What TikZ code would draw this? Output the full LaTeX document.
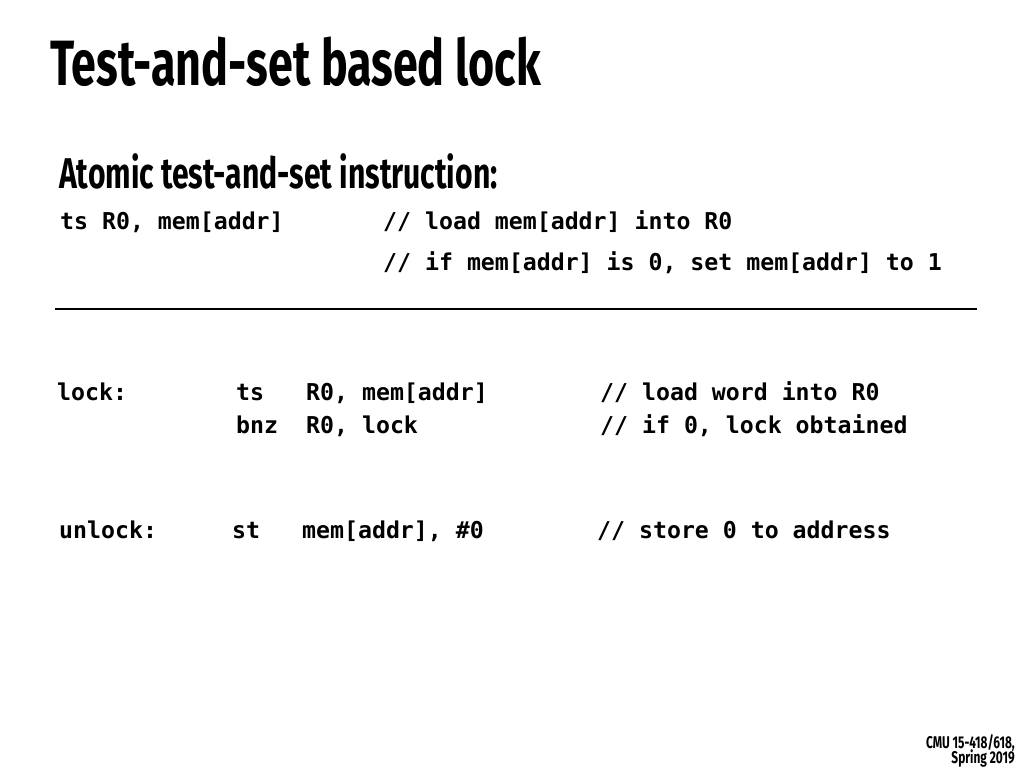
\documentclass[tikz,border=0pt]{standalone}
\usepackage{fontspec}
\setmainfont{Fira Sans}
\setmonofont{DejaVu Sans Mono}
\newfontfamily\condfont{Fira Sans}[FakeStretch=0.70]
\usetikzlibrary{positioning}

\begin{document}
\begin{tikzpicture}[% styles for the whole slide, positions are in pixels
			x=1pt,y=-1pt,
			every node/.style={
				inner sep=0pt,		% so the coordinate is the text itself
				anchor=base west
			},
			slidetitle/.style={font=\condfont\bfseries\fontsize{64}{64}\selectfont},
			heading/.style={font=\condfont\bfseries\fontsize{43}{43}\selectfont},
			code/.style={font=\ttfamily\bfseries\fontsize{23.2}{23.2}\selectfont},
			footer/.style={font=\condfont\bfseries\fontsize{17}{17}\selectfont,anchor=base east}
		]
		\useasboundingbox[fill=white] (0,0) rectangle (1024,768);
		\node[slidetitle](T) at (50,85) {Test-and-set based lock};
		\node[heading](H) at (59,188) {Atomic test-and-set instruction:};
		% the instruction and what it does
		\node[code](I1) at (60,229) {ts R0, mem[addr]};
		\node[code](C1) at (383,229) {// load mem[addr] into R0};
		\node[code](C2) at (383,270) {// if mem[addr] is 0, set mem[addr] to 1};
		\coordinate (L1) at (55,309);
		\coordinate (L2) at (977,309);
		\draw[line width=2pt] (L1) -- (L2);
		% lock
		\node[code](lock) at (57,400) {lock:};
		\node[code](ts) at (236,400) {ts};
		\node[code](tsargs) at (306,400) {R0, mem[addr]};
		\node[code](tscom) at (600,400) {// load word into R0};
		\node[code](bnz) at (236,433) {bnz};
		\node[code](bnzargs) at (306,433) {R0, lock};
		\node[code](bnzcom) at (600,433) {// if 0, lock obtained};
		% unlock
		\node[code](unlock) at (59,538) {unlock:};
		\node[code](st) at (232,538) {st};
		\node[code](stargs) at (302,538) {mem[addr], \#0};
		\node[code](stcom) at (597,538) {// store 0 to address};
		% footer
		\node[footer](F1) at (1015,748) {CMU 15-418/618,};
		\node[footer](F2) at (1015,763) {Spring 2019};
	\end{tikzpicture}
\end{document}
